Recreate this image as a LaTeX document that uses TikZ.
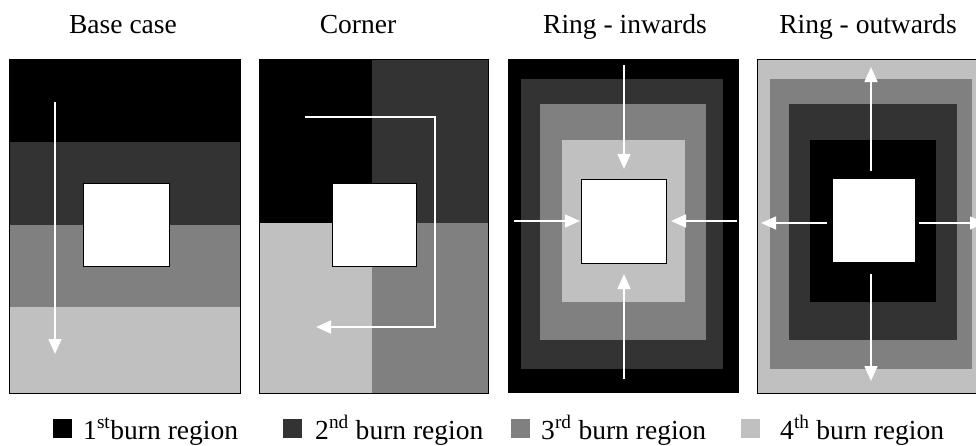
\documentclass[tikz,border=0pt]{standalone}
\usepackage{fontspec}
\setmainfont{Liberation Serif}
\usepackage{tikz}
\usetikzlibrary{positioning,arrows.meta}
\definecolor{burnA}{HTML}{000000}
\definecolor{burnB}{HTML}{333333}
\definecolor{burnC}{HTML}{808080}
\definecolor{burnD}{HTML}{C0C0C0}

\begin{document}
\begin{tikzpicture}[
    x=0.03cm, y=-0.03cm,
    titletext/.style={font=\fontsize{23.5}{27}\selectfont, anchor=base},
    legtext/.style={font=\fontsize{23.5}{27}\selectfont, anchor=base west, inner sep=0pt},
    legbox/.style={minimum size=0.57cm, inner sep=0pt, anchor=north west},
    burnarrow/.style={-{Triangle[length=0.45cm,width=0.38cm]}, draw=white, line width=0.075cm},
    frame/.style={draw=black, line width=0.03cm},
    hole/.style={fill=white, draw=black, line width=0.03cm}
    ]
        \clip (0,0) rectangle (976,445);
        \fill[white] (0,0) rectangle (976,445);

        %Titles
        \node[titletext] (tbase)  at (123,33) {Base case};
        \node[titletext] (tcorner) at (358,33) {Corner};
        \node[titletext] (tin)    at (625,33) {Ring - inwards};
        \node[titletext] (tout)   at (868,33) {Ring - outwards};

        %Base case
        \fill[burnA] (9,59) rectangle (240,142);
        \fill[burnB] (9,142) rectangle (240,225);
        \fill[burnC] (9,225) rectangle (240,307);
        \fill[burnD] (9,307) rectangle (240,393);
        \draw[frame] (9,59) rectangle (240,393);
        \draw[hole] (83,183) rectangle (169,266);
        \draw[burnarrow] (55,102) -- (55,354);

        %Corner
        \fill[burnA] (259,59) rectangle (372,223);
        \fill[burnB] (372,59) rectangle (488,223);
        \fill[burnD] (259,223) rectangle (372,393);
        \fill[burnC] (372,223) rectangle (488,393);
        \draw[frame] (259,59) rectangle (488,393);
        \draw[hole] (332,183) rectangle (416,266);
        \draw[burnarrow] (305,117) -- (435,117) -- (435,327) -- (316,327);

        %Ring - inwards
        \fill[burnA] (508,59) rectangle (739,393);
        \fill[burnB] (521,79) rectangle (723,369);
        \fill[burnC] (540,104) rectangle (706,340);
        \fill[burnD] (562,140) rectangle (685,302);
        \draw[hole] (581,179) rectangle (666,263);
        \draw[burnarrow] (624,65) -- (624,169);
        \draw[burnarrow] (624,379) -- (624,274);
        \draw[burnarrow] (514,221) -- (580,221);
        \draw[burnarrow] (737,221) -- (671,221);

        %Ring - outwards
        \fill[burnD] (757,59) rectangle (990,393);
        \fill[burnC] (770,79) rectangle (972,369);
        \fill[burnB] (789,104) rectangle (957,340);
        \fill[burnA] (810,140) rectangle (936,302);
        \fill[white] (833,179) rectangle (915,262);
        \draw[frame] (757,59) rectangle (990,393);
        \draw[burnarrow] (871,171) -- (871,67);
        \draw[burnarrow] (871,274) -- (871,381);
        \draw[burnarrow] (827,223) -- (761,223);
        \draw[burnarrow] (919,223) -- (985,223);

        %Legend
        \node[legbox, fill=burnA] (kA) at (53,419) {};
        \node[legbox, fill=burnB] (kB) at (283,419) {};
        \node[legbox, fill=burnC] (kC) at (511,419) {};
        \node[legbox, fill=burnD] (kD) at (741,419) {};
        \node[legtext] (lA) at (83,439)  {1\textsuperscript{st}burn region};
        \node[legtext] (lB) at (315,439) {2\textsuperscript{nd} burn region};
        \node[legtext] (lC) at (541,439) {3\textsuperscript{rd} burn region};
        \node[legtext] (lD) at (780,439) {4\textsuperscript{th} burn region};
    \end{tikzpicture}
\end{document}
